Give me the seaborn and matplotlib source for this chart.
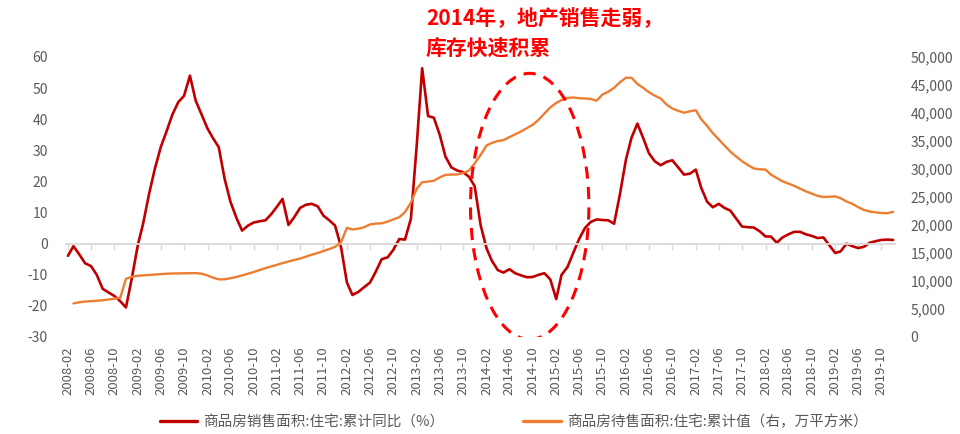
import matplotlib
matplotlib.use("Agg")
import matplotlib.dates as mdates
import matplotlib.pyplot as plt
import numpy as np
import pandas as pd
import seaborn as sns
from matplotlib.patches import Ellipse
from matplotlib.ticker import FuncFormatter, MultipleLocator

RED = "#C00000"
ORANGE = "#ED7D31"
GREY = "#595959"
LIGHT = "#D9D9D9"

months = pd.date_range("2008-02-01", "2019-12-01", freq="MS")

# 商品房销售面积:住宅:累计同比 (%), one value per month, grouped by calendar year
sales_yoy = [
    -3.9, -0.8, -3.5, -6.3, -7.2, -10, -14.5, -15.7, -16.8, -18.5, -20.5,       # 2008 Feb-Dec
    -11, -0.5, 6.5, 16, 24, 31, 36, 41.5, 45.5, 47.5, 54, 46,                   # 2009
    41.5, 37, 34, 31, 21, 13.5, 8.5, 4.2, 5.8, 6.8, 7.2, 7.5,                   # 2010
    9.5, 12, 14.4, 6, 8.5, 11.5, 12.5, 12.8, 12, 9, 7.5, 5.8,                   # 2011
    -1, -12.5, -16.5, -15.5, -14, -12.5, -9, -5, -4.4, -2, 1.5, 1.3,            # 2012
    8, 32, 56.4, 41, 40.5, 35, 28, 24.5, 23.5, 23, 21.5, 18.5,                  # 2013
    6, -1.5, -5.5, -8.5, -9.3, -8.2, -9.5, -10.2, -10.8, -10.7, -10, -9.5,      # 2014
    -11.5, -17.8, -10, -7.5, -3, 1.5, 5, 7, 7.8, 7.6, 7.5, 6.4,                 # 2015
    16, 27, 34, 38.6, 34, 29, 26.5, 25.2, 26.3, 26.8, 24.5, 22.2,               # 2016
    22.5, 23.8, 18, 13.5, 11.7, 12.8, 11.5, 10.6, 8, 5.5, 5.3, 5.2,             # 2017
    4, 2.3, 2.3, 0.3, 2, 3, 3.8, 3.8, 3, 2.5, 1.8, 2,                           # 2018
    -0.5, -3, -2.5, 0, -0.8, -1.4, -1, 0.3, 0.8, 1.2, 1.3, 1.2,                 # 2019
]

# 商品房待售面积:住宅:累计值 (万平方米)
inventory = [
    np.nan, 6000, 6200, 6330, 6400, 6450, 6550, 6700, 6850, 7000, 10400,
    10750, 10930, 11000, 11080, 11150, 11220, 11300, 11340, 11360, 11380, 11400, 11410,
    11300, 11000, 10600, 10300, 10300, 10500, 10700, 11000, 11300, 11600, 11950, 12300,
    12600, 12900, 13200, 13480, 13750, 14000, 14350, 14700, 15000, 15350, 15700, 16100,
    16900, 19500, 19200, 19350, 19600, 20100, 20250, 20300, 20600, 21000, 21380, 22300,
    24000, 26500, 27650, 27750, 27900, 28500, 28950, 29000, 29030, 29300, 29700, 31000,
    32500, 34200, 34650, 35000, 35150, 35700, 36200, 36700, 37300, 37900, 38800, 39900,
    41000, 41800, 42300, 42700, 42770, 42650, 42600, 42500, 42200, 43300, 43800, 44500,
    45500, 46300, 46300, 45200, 44500, 43700, 43100, 42600, 41500, 40800, 40400, 40050,
    40300, 40500, 38900, 37700, 36400, 35300, 34200, 33100, 32200, 31400, 30700, 30100,
    29950, 29900, 29000, 28400, 27800, 27400, 27000, 26500, 26000, 25600, 25200, 25000,
    25050, 25100, 24800, 24200, 23800, 23200, 22700, 22400, 22250, 22150, 22100, 22350,
]

sales_label = "商品房销售面积:住宅:累计同比（%）"
inventory_label = "商品房待售面积:住宅:累计值（右，万平方米）"
note_lines = ["2014年，地产销售走弱，", "库存快速积累"]

df = pd.DataFrame({"month": months, "sales_yoy": sales_yoy, "inventory": inventory})

sns.set_theme(style="white")
plt.rcParams["font.family"] = ["Noto Sans CJK SC", "DejaVu Sans"]
plt.rcParams["axes.unicode_minus"] = False

fig = plt.figure(figsize=(9.6, 4.34), dpi=100)
ax = fig.add_axes([66 / 960, 1 - 337 / 434, (895 - 66) / 960, (337 - 57) / 434])
ax2 = ax.twinx()

sns.lineplot(data=df, x="month", y="sales_yoy", ax=ax, color=RED,
             linewidth=1.9, label=sales_label, legend=False)
sns.lineplot(data=df, x="month", y="inventory", ax=ax2, color=ORANGE,
             linewidth=1.7, label=inventory_label, legend=False)

ax.set_xlim(months[0] - pd.Timedelta(days=10), months[-1] + pd.Timedelta(days=10))
ax.set_ylim(-30, 60)
ax2.set_ylim(0, 50000)
ax.yaxis.set_major_locator(MultipleLocator(10))
ax2.yaxis.set_major_locator(MultipleLocator(5000))
ax2.yaxis.set_major_formatter(FuncFormatter(lambda v, _: f"{v:,.0f}"))
ax.xaxis.set_major_locator(mdates.MonthLocator(bymonth=[2, 6, 10]))
ax.xaxis.set_major_formatter(mdates.DateFormatter("%Y-%m"))

for a in (ax, ax2):
    a.set_xlabel("")
    a.set_ylabel("")
    for side in ("top", "left", "right", "bottom"):
        a.spines[side].set_visible(False)

# zero line with small tick marks, like the category axis crossing at 0
ax.spines["bottom"].set_visible(True)
ax.spines["bottom"].set_position(("data", 0))
ax.spines["bottom"].set_color(LIGHT)
ax.spines["bottom"].set_linewidth(1.3)
ax.tick_params(axis="x", bottom=True, length=4, width=1, color=LIGHT,
               direction="out", labelbottom=False)

ax2.xaxis.set_visible(True)
ax2.tick_params(axis="x", bottom=True, length=0, labelbottom=True, labelrotation=90,
                labelsize=9.5, labelcolor=GREY, pad=7)

ax.tick_params(axis="y", length=0, labelsize=10, labelcolor=GREY, pad=13)
ax2.tick_params(axis="y", length=0, labelsize=10, labelcolor=GREY, pad=11)

# highlight of the 2014 slump
centre = mdates.date2num(pd.Timestamp("2014-09-15"))
ring = Ellipse((centre, 12), width=620, height=85.5, fill=False,
               edgecolor="#FF0000", linewidth=2.2, linestyle=(0, (4, 2.7)),
               transform=ax.transData, zorder=5)
ax2.add_patch(ring)

fig.text(426 / 960, 1 - 18 / 434, note_lines[0], color="#FF0000", fontsize=15,
         fontweight="bold", ha="left", va="center")
fig.text(426 / 960, 1 - 48 / 434, note_lines[1], color="#FF0000", fontsize=15,
         fontweight="bold", ha="left", va="center")

handles = ax.get_lines()[:1] + ax2.get_lines()[:1]
fig.legend(handles, [sales_label, inventory_label], loc="center",
           bbox_to_anchor=(0.535, 0.028), ncol=2, frameon=False, fontsize=10.5,
           handlelength=2.6, handletextpad=0.4, columnspacing=5.4, labelcolor=GREY)
for line in fig.legends[0].get_lines():
    line.set_linewidth(2.4)

fig.savefig("out.png", dpi=100)
